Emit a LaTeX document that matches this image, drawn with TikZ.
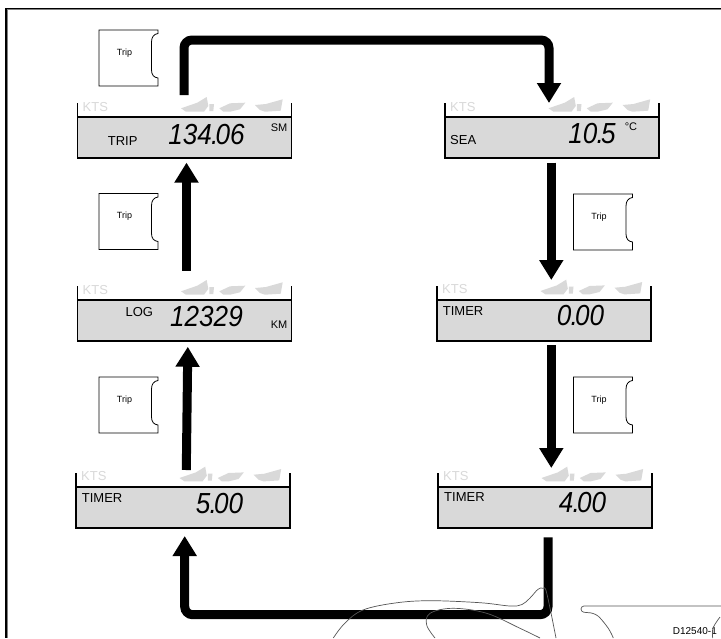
\documentclass[tikz,border=0pt]{standalone}
\usepackage{fontspec}
\setmainfont{Liberation Sans}
\newfontfamily\lcdfont{Liberation Sans}[FakeStretch=0.9]
\usetikzlibrary{arrows.meta}
\definecolor{lcdgray}{HTML}{D9D9D9}
\definecolor{pencil}{HTML}{555555}
\newcommand{\lcdpoint}{\kern-.8pt.\kern-2.6pt}
\tikzset{
  lcdbox/.style={draw=black,line width=1.7pt,fill=lcdgray,minimum width=214pt,minimum height=41pt,anchor=north west,inner sep=0pt,outer sep=0pt},
  lcdsmall/.style={font=\fontsize{13}{15}\selectfont,inner sep=0pt,text=black},
  lcdunit/.style={font=\fontsize{11}{13}\selectfont,inner sep=0pt,text=black},
  ktslabel/.style={font=\fontsize{13}{15}\selectfont,inner sep=0pt,text=lcdgray,anchor=west},
  lcdnum/.style={font=\lcdfont\itshape\fontsize{29}{31}\selectfont,inner sep=0pt,text=black},
  tripkey/.style={draw=black,line width=.8pt,fill=white},
  triptext/.style={font=\fontsize{9}{11}\selectfont,inner sep=0pt},
  flow/.style={draw=black,line width=9pt,rounded corners=8pt,-{Triangle[length=20pt,width=23pt]}},
  outline/.style={draw=pencil,line width=.7pt},
}
\newcommand{\lcdpanel}[3]{%
  \node[lcdbox] (#1) at (#2,#3) {};
  \draw[black,line width=1.7pt] (#1.north west) -- ++(0,-14.5);
  \draw[black,line width=1.7pt] (#1.north east) -- ++(0,-14.5);
  \node[ktslabel] (#1-kts) at ([shift={(5,-10.5)}]#1.north west) {KTS};
  \begin{scope}[shift={(#1.north west)},fill=lcdgray]
    \fill (103.5,-9) -- (119.8,-14.6) -- (129.2,-20.3) -- (130.8,-11.3) -- (126.5,-5.6) -- (108.5,-5.6) -- cycle;
    \fill (131.8,-13.3) -- (136.5,-13.3) -- (135.8,-6.3) -- (131.8,-6.3) -- cycle;
    \fill (141.8,-9) -- (152.5,-14) -- (167.8,-14.6) -- (162.5,-8) -- (152.5,-5.6) -- (145.8,-5.6) -- cycle;
    \fill (177.5,-12.3) -- (188.5,-13.3) -- (205.2,-18) -- (203.2,-6.6) -- (187.5,-5.6) -- (182.5,-7.3) -- cycle;
  \end{scope}
}
\newcommand{\tripbutton}[3]{%
  \begin{scope}[shift={(#2,#3)}]
    \path[tripkey] (0,0) -- (59,0) -- (59,3.5) .. controls (55,4) and (52.5,7) .. (52.5,12)
      -- (52.5,40) .. controls (52.5,45) and (55,47.5) .. (59,48) -- (59,56) -- (0,56) -- cycle;
    \node[triptext] (#1) at (25.5,23) {Trip};
  \end{scope}
}
\begin{document}
\begin{tikzpicture}[x=1pt,y=-1pt]
\useasboundingbox (0,0) rectangle (721,638);
\fill[white] (0,0) rectangle (721,638);
% frame
\draw[gray,line width=1pt] (721,9.6) -- (7.4,9.6) -- (7.4,638);
\draw[black,line width=1.5pt] (721,8.4) -- (6,8.4) -- (6,638);
% panels
\lcdpanel{trip}{77.5}{117.3}
\lcdpanel{log}{77.5}{300.3}
\lcdpanel{timerfive}{76}{487}
\lcdpanel{sea}{445}{117.3}
\lcdpanel{timerzero}{437}{300}
\lcdpanel{timerfour}{438}{487}
% texts in the panels
\node[lcdsmall] (triplabel) at (122.7,141) {TRIP};
\node[lcdnum] (tripnum) at (206.5,134.5) {134\lcdpoint06};
\node[lcdunit] (tripunit) at (279,128) {SM};
\node[lcdsmall] (loglabel) at (139.3,311.7) {LOG};
\node[lcdnum] (lognum) at (206.5,317) {12329};
\node[lcdunit] (logunit) at (279,325) {KM};
\node[lcdsmall,anchor=west] (fivelabel) at (81.7,498) {TIMER};
\node[lcdnum] (fivenum) at (219.5,504) {5\lcdpoint00};
\node[lcdsmall,anchor=west] (sealabel) at (450,140) {SEA};
\node[lcdnum] (seanum) at (592,134) {10\lcdpoint5};
\node[lcdunit] (seaunit) at (631,127) {°C};
\node[lcdsmall,anchor=west] (zerolabel) at (442.7,310.7) {TIMER};
\node[lcdnum] (zeronum) at (580.5,315.5) {0\lcdpoint00};
\node[lcdsmall,anchor=west] (fourlabel) at (444,497) {TIMER};
\node[lcdnum] (fournum) at (582.5,503) {4\lcdpoint00};
% buttons
\tripbutton{keya}{99}{30}
\tripbutton{keyb}{99}{193.5}
\tripbutton{keyc}{99}{377}
\tripbutton{keyd}{573.5}{194}
\tripbutton{keye}{573.5}{377}
% connectors
\draw[flow] ([shift={(-0.5,-22.3)}]trip.north) -- ([shift={(-0.5,-77.3)}]trip.north) -- ([shift={(4,-77.3)}]sea.north -| timerfour.north) -- ([shift={(4,-14.3)}]sea.north -| timerfour.north);
\draw[flow] ([shift={(2,-29.5)}]log.north) -- ([shift={(2,4.3)}]trip.south);
\draw[flow] ([shift={(3.3,-17)}]timerfive.north) -- ([shift={(3.3,5.5)}]log.south);
\draw[flow] ([shift={(6.3,4.3)}]sea.south -| timerfour.south) -- ([shift={(6.3,-20)}]timerzero.north -| timerfour.south);
\draw[flow] ([shift={(6.3,4.3)}]timerzero.south -| timerfour.south) -- ([shift={(6.3,-19)}]timerfour.north -| timerfour.south);
\draw[flow] ([shift={(3,9.3)}]timerfour.south) -- ([shift={(3,86.7)}]timerfour.south) -- ([shift={(1.7,86.7)}]timerfive.south) -- ([shift={(1.7,8)}]timerfive.south);
% code and outlines at the foot
\node[font=\fontsize{10}{12}\selectfont,inner sep=0pt,anchor=west] (code) at (672.7,631.5) {D12540-1};
\draw[outline] plot[smooth,tension=.6] coordinates {(333.3,638) (345,623) (363,610) (395,603) (430,600.7) (480,602.7) (510,606) (522,604.5) (530,598) (538,589.3) (543,588.3) (546.7,593) (556,638)};
\draw[outline] plot[smooth,tension=.6] coordinates {(435,638) (426.7,625) (430,613.3) (453,608.3) (486.7,613.3) (520,628.3) (540,638)};
\draw[outline,rounded corners=3pt] (721,606) -- (581,606) -- (581,612) -- (590,612.8);
\draw[outline] plot[smooth,tension=.6] coordinates {(590,612.8) (598,616) (608.3,628.3) (613.3,638)};
\draw[outline] plot[smooth,tension=.6] coordinates {(712.7,638) (713,628) (720,617)};
\end{tikzpicture}
\end{document}
